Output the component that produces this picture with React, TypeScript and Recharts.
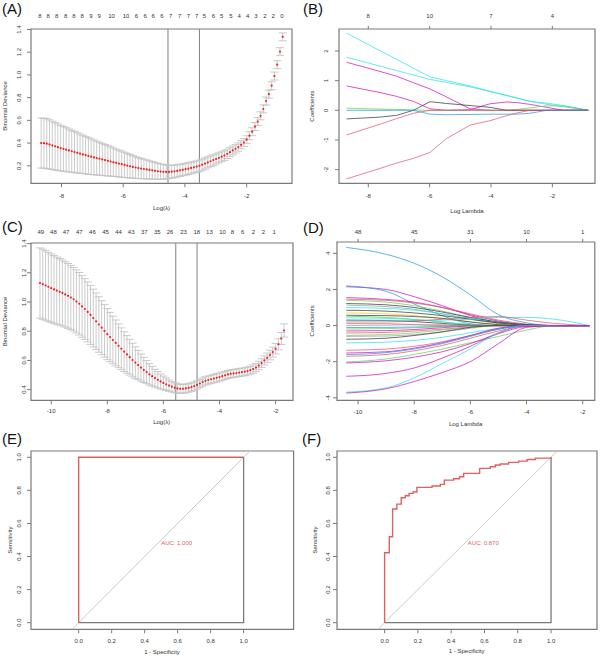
import React from "react";
import {
  ComposedChart,
  Scatter,
  Line,
  XAxis,
  YAxis,
  ErrorBar,
  ReferenceLine,
  ReferenceArea,
  ReferenceDot,
} from "recharts";

const FONT = '"Liberation Sans", Arial, Helvetica, sans-serif';
const TXT = "#333333";
const BOX = "#7a7a7a";
const DOT = "#f02424";
const BAR = "#c4c4c4";
const ROC = "#e0605f";
const DIAG = "#cccccc";
const VLINE = "#8c8c8c";

// R default palette
const K = "#333333", R = "#DF536B", G = "#61D04F", B = "#2297E6", C = "#28E2E5", M = "#CD0BBC", Y = "#F5C710", GR = "#9E9E9E";

// ---- (A) cross-validation curve, first model
const aLogLambda = [
  -8.66, -8.57, -8.48, -8.39, -8.3, -8.21, -8.12, -8.03, -7.94, -7.85,
  -7.76, -7.67, -7.58, -7.49, -7.4, -7.31, -7.22, -7.13, -7.04, -6.95,
  -6.86, -6.77, -6.68, -6.59, -6.5, -6.41, -6.32, -6.23, -6.14, -6.05,
  -5.96, -5.87, -5.78, -5.69, -5.6, -5.51, -5.42, -5.33, -5.24, -5.15,
  -5.06, -4.97, -4.88, -4.79, -4.7, -4.61, -4.52, -4.43, -4.34, -4.25,
  -4.16, -4.07, -3.98, -3.89, -3.8, -3.71, -3.62, -3.53, -3.44, -3.35,
  -3.26, -3.17, -3.08, -2.99, -2.9, -2.81, -2.72, -2.63, -2.54, -2.45,
  -2.36, -2.27, -2.18, -2.09, -2.0, -1.91, -1.82, -1.73, -1.64, -1.55,
  -1.46, -1.37, -1.28, -1.19, -1.1, -1.01, -0.92, -0.83,
];
const aDeviance = [
  0.4, 0.399, 0.395, 0.388, 0.38, 0.372, 0.364, 0.356, 0.349, 0.342,
  0.335, 0.328, 0.321, 0.314, 0.307, 0.3, 0.294, 0.287, 0.28, 0.274,
  0.268, 0.262, 0.256, 0.25, 0.244, 0.238, 0.232, 0.226, 0.22, 0.214,
  0.208, 0.202, 0.196, 0.19, 0.185, 0.18, 0.176, 0.172, 0.168, 0.164,
  0.16, 0.156, 0.152, 0.149, 0.147, 0.146, 0.146, 0.148, 0.151, 0.155,
  0.16, 0.165, 0.17, 0.175, 0.181, 0.187, 0.193, 0.2, 0.21, 0.22,
  0.23, 0.24, 0.25, 0.26, 0.27, 0.28, 0.29, 0.305, 0.32, 0.335,
  0.35, 0.365, 0.385, 0.405, 0.43, 0.465, 0.5, 0.545, 0.59, 0.64,
  0.7, 0.77, 0.83, 0.905, 0.99, 1.09, 1.205, 1.335,
];
const aSd = [
  0.22, 0.22, 0.22, 0.217, 0.213, 0.209, 0.205, 0.201, 0.197, 0.193,
  0.189, 0.185, 0.181, 0.177, 0.173, 0.169, 0.165, 0.161, 0.157, 0.153,
  0.149, 0.145, 0.141, 0.137, 0.133, 0.129, 0.125, 0.121, 0.118, 0.115,
  0.111, 0.107, 0.103, 0.099, 0.095, 0.092, 0.089, 0.086, 0.083, 0.08,
  0.077, 0.074, 0.071, 0.068, 0.065, 0.062, 0.058, 0.056, 0.055, 0.054,
  0.053, 0.052, 0.052, 0.051, 0.051, 0.05, 0.05, 0.05, 0.049, 0.049,
  0.048, 0.047, 0.046, 0.045, 0.044, 0.043, 0.042, 0.041, 0.04, 0.039,
  0.038, 0.037, 0.036, 0.035, 0.035, 0.035, 0.035, 0.035, 0.035, 0.035,
  0.035, 0.035, 0.035, 0.035, 0.035, 0.035, 0.035, 0.035,
];
const aLambdaLines = [-4.55, -3.53];
const aTopAt = [
  -8.7, -8.43, -8.16, -7.87, -7.6, -7.33, -7.05, -6.78, -6.38, -5.91, -5.57, -5.29, -5.03, -4.75,
  -4.46, -4.17, -3.89, -3.62, -3.37, -3.08, -2.81, -2.51, -2.24, -1.97, -1.7, -1.41, -1.14, -0.86,
];
const aTopNz = [
  "8", "8", "8", "8", "8", "8", "9", "9", "10", "10", "6", "6", "6", "6",
  "7", "7", "7", "7", "5", "6", "5", "5", "4", "4", "3", "2", "2", "0",
];

// ---- (C) cross-validation curve, second model
const cLogLambda = [
  -10.4, -10.3, -10.2, -10.1, -10.0, -9.9, -9.8, -9.7, -9.6, -9.5,
  -9.4, -9.3, -9.2, -9.1, -9.0, -8.9, -8.8, -8.7, -8.6, -8.5,
  -8.4, -8.3, -8.2, -8.1, -8.0, -7.9, -7.8, -7.7, -7.6, -7.5,
  -7.4, -7.3, -7.2, -7.1, -7.0, -6.9, -6.8, -6.7, -6.6, -6.5,
  -6.4, -6.3, -6.2, -6.1, -6.0, -5.9, -5.8, -5.7, -5.6, -5.5,
  -5.4, -5.3, -5.2, -5.1, -5.0, -4.9, -4.8, -4.7, -4.6, -4.5,
  -4.4, -4.3, -4.2, -4.1, -4.0, -3.9, -3.8, -3.7, -3.6, -3.5,
  -3.4, -3.3, -3.2, -3.1, -3.0, -2.9, -2.8, -2.7, -2.6, -2.5,
  -2.4, -2.3, -2.2, -2.1, -2.0, -1.9, -1.8, -1.7,
];
const cDeviance = [
  1.13, 1.122, 1.113, 1.104, 1.095, 1.086, 1.078, 1.07, 1.062, 1.052,
  1.042, 1.031, 1.019, 1.004, 0.988, 0.97, 0.952, 0.932, 0.912, 0.89,
  0.868, 0.846, 0.824, 0.802, 0.78, 0.76, 0.74, 0.72, 0.7, 0.68,
  0.66, 0.641, 0.622, 0.603, 0.585, 0.568, 0.551, 0.535, 0.52, 0.505,
  0.492, 0.479, 0.467, 0.456, 0.446, 0.437, 0.428, 0.42, 0.413, 0.408,
  0.406, 0.406, 0.408, 0.412, 0.417, 0.424, 0.432, 0.442, 0.452, 0.46,
  0.466, 0.471, 0.476, 0.481, 0.486, 0.492, 0.498, 0.504, 0.508, 0.511,
  0.514, 0.517, 0.52, 0.523, 0.527, 0.533, 0.541, 0.551, 0.565, 0.582,
  0.6, 0.618, 0.637, 0.657, 0.68, 0.71, 0.75, 0.805,
];
const cSd = [
  0.24, 0.24, 0.238, 0.236, 0.234, 0.232, 0.23, 0.228, 0.226, 0.224,
  0.222, 0.22, 0.218, 0.216, 0.214, 0.211, 0.208, 0.205, 0.202, 0.198,
  0.194, 0.19, 0.185, 0.18, 0.175, 0.169, 0.163, 0.157, 0.15, 0.143,
  0.136, 0.129, 0.122, 0.115, 0.108, 0.1, 0.093, 0.086, 0.079, 0.073,
  0.067, 0.061, 0.056, 0.051, 0.047, 0.043, 0.039, 0.036, 0.034, 0.032,
  0.031, 0.03, 0.03, 0.029, 0.029, 0.029, 0.028, 0.028, 0.028, 0.028,
  0.028, 0.028, 0.028, 0.028, 0.028, 0.028, 0.027, 0.027, 0.027, 0.027,
  0.027, 0.027, 0.027, 0.027, 0.027, 0.027, 0.028, 0.028, 0.029, 0.03,
  0.031, 0.032, 0.033, 0.034, 0.036, 0.038, 0.041, 0.045,
];
const cLambdaLines = [-5.56, -4.8];
const cTopAt = [
  -10.37, -9.92, -9.47, -9.0, -8.53, -8.06, -7.6, -7.15, -6.68, -6.22,
  -5.76, -5.28, -4.81, -4.36, -3.89, -3.54, -3.17, -2.79, -2.43, -2.05,
];
const cTopNz = ["49", "48", "47", "47", "46", "45", "44", "43", "37", "35", "26", "23", "18", "13", "10", "8", "6", "2", "2", "1"];

// ---- (B) coefficient paths, first model
const bLogLambda = [-8.71, -7.62, -7.08, -6.53, -5.99, -5.45, -4.68, -4.03, -3.49, -3.16, -2.73, -2.18, -1.64, -0.83];
const bCoefs = [
  [2.6, 2.01, 1.72, 1.42, 1.13, 1.0, 0.82, 0.64, 0.5, 0.41, 0.3, 0.24, 0.16, 0],
  [1.79, 1.49, 1.34, 1.19, 1.04, 0.94, 0.79, 0.63, 0.5, 0.42, 0.3, 0.2, 0.12, 0],
  [1.62, 1.31, 1.15, 0.93, 0.72, 0.45, 0.05, 0, 0, 0, 0, 0, 0, 0],
  [0.82, 0.6, 0.47, 0.3, 0.05, 0, 0.02, 0.22, 0.28, 0.26, 0.2, 0.1, 0, 0],
  [0.07, 0.04, 0.03, 0.01, 0, 0, 0, 0, 0, 0.03, 0.08, 0.15, 0.15, 0],
  [-0.29, -0.23, -0.17, 0, 0.29, 0.23, 0.16, 0.1, 0, 0, 0, 0, 0, 0],
  [-0.83, -0.47, -0.28, -0.1, 0, 0, 0, 0, 0, 0, 0, 0, 0, 0],
  [-2.31, -1.96, -1.78, -1.62, -1.42, -0.95, -0.5, -0.35, -0.18, -0.09, 0, 0, 0, 0],
  [0, 0, 0, 0, -0.13, -0.15, -0.14, -0.13, -0.13, -0.13, -0.1, 0, 0, 0],
];
const bColors = [C, C, M, M, G, K, R, R, B];
const bTopAt = [-8, -6, -4, -2];
const bTopNz = ["8", "10", "7", "4"];

// ---- (D) coefficient paths, second model
const dLogLambda = [-10.42, -9, -8, -7, -6, -5, -4, -3, -1.76];
const dCoefs = [
  [4.33, 3.95, 3.45, 2.7, 1.7, 0.6, 0.15, 0, 0],
  [2.15, 2.0, 1.6, 1.1, 0.55, 0.15, 0, 0, 0],
  [2.2, 1.9, 1.2, 0.55, 0.1, 0, 0, 0, 0],
  [1.55, 1.45, 1.3, 1.0, 0.6, 0.25, 0.05, 0, 0],
  [1.46, 1.4, 1.25, 1.0, 0.65, 0.3, 0.08, 0, 0],
  [1.4, 1.3, 1.1, 0.8, 0.45, 0.15, 0, 0, 0],
  [1.22, 1.15, 1.0, 0.75, 0.45, 0.2, 0.05, 0, 0],
  [1.13, 1.05, 0.9, 0.65, 0.35, 0.1, 0, 0, 0],
  [1.0, 0.95, 0.85, 0.65, 0.4, 0.15, 0, 0, 0],
  [0.85, 0.8, 0.7, 0.55, 0.35, 0.15, 0.02, 0, 0],
  [0.7, 0.65, 0.55, 0.4, 0.2, 0.05, 0, 0, 0],
  [0.57, 0.55, 0.5, 0.4, 0.2, 0.05, 0, 0, 0],
  [0.52, 0.45, 0.35, 0.2, 0.05, 0, 0, 0, 0],
  [0.43, 0.4, 0.33, 0.2, 0.05, 0, 0, 0, 0],
  [0.3, 0.28, 0.22, 0.12, 0.02, 0, 0, 0, 0],
  [0.3, 0.3, 0.28, 0.3, 0.35, 0.45, 0.45, 0.35, 0],
  [0.2, 0.2, 0.25, 0.35, 0.45, 0.5, 0.3, 0.12, 0],
  [0.11, 0.1, 0.05, 0, 0, 0, 0, 0, 0],
  [0, 0.02, 0.05, 0.05, 0, 0, 0, 0, 0],
  [-0.11, -0.1, -0.08, -0.05, 0, 0, 0, 0, 0],
  [-0.19, -0.17, -0.12, -0.06, 0, 0, 0, 0, 0],
  [-0.3, -0.28, -0.22, -0.12, -0.02, 0, 0, 0, 0],
  [-0.41, -0.38, -0.3, -0.2, -0.08, 0, 0, 0, 0],
  [-0.54, -0.5, -0.4, -0.25, -0.08, 0, 0, 0, 0],
  [-0.6, -0.58, -0.5, -0.35, -0.15, 0, 0, 0, 0],
  [-0.76, -0.7, -0.55, -0.35, -0.1, 0, 0, 0, 0],
  [-0.96, -0.92, -0.82, -0.65, -0.4, -0.15, 0, 0, 0],
  [-1.37, -1.3, -1.15, -0.9, -0.55, -0.2, 0, 0, 0],
  [-1.52, -1.45, -1.25, -0.95, -0.55, -0.15, 0, 0, 0],
  [-1.61, -1.5, -1.3, -1.0, -0.6, -0.2, 0, 0, 0],
  [-1.7, -1.6, -1.4, -1.1, -0.7, -0.3, -0.02, 0, 0],
  [-2.02, -1.85, -1.6, -1.3, -0.95, -0.6, -0.25, 0, 0],
  [-2.07, -1.95, -1.75, -1.45, -1.0, -0.45, -0.05, 0, 0],
  [-2.81, -2.65, -2.35, -1.8, -1.15, -0.4, 0, 0, 0],
  [-3.69, -3.45, -2.9, -2.1, -1.3, -0.4, 0, 0, 0],
  [-3.74, -3.5, -3.1, -2.6, -2.0, -1.0, -0.1, 0, 0],
];
const dColors = [B, M, B, M, R, G, K, GR, C, K, Y, K, G, C, K, C, R, R, GR, B, G, M, R, G, GR, K, C, R, M, B, R, G, M, M, C, M];
const dTopAt = [-10, -8, -6, -4, -2];
const dTopNz = ["48", "45", "31", "10", "1"];

// ---- (E), (F) ROC curves
const eFpr = [0, 0, 1];
const eTpr = [0, 1, 1];
const fFpr = [0, 0, 0.028, 0.048, 0.074, 0.1, 0.124, 0.147, 0.171, 0.194, 0.285, 0.335, 0.359, 0.415, 0.45, 0.475, 0.571, 0.635, 0.665, 0.695, 0.745, 0.805, 0.856, 0.906, 1.0];
const fTpr = [0, 0.423, 0.52, 0.687, 0.717, 0.755, 0.767, 0.782, 0.79, 0.818, 0.826, 0.836, 0.862, 0.87, 0.882, 0.903, 0.933, 0.943, 0.953, 0.959, 0.969, 0.977, 0.987, 0.995, 1.0];
const cornerFpr = [0, 1, 1];
const cornerTpr = [0, 0, 1];
const eAuc = "AUC: 1.000";
const fAuc = "AUC: 0.870";

const toXY = (xs: number[], ys: number[]) => xs.map((x, i) => ({ x, y: ys[i] }));

type Box = { x0: number; y0: number; x1: number; y1: number };
const ML = 30, MR = 3, MB = 32, MT = 30;

const tickStyle = { fontSize: 6, fill: TXT, fontFamily: FONT };

function yTick(off: number, digits: number) {
  return (p: any) => {
    const x = p.x - off;
    return (
      <text x={x} y={p.y} dy="0.35em" textAnchor="middle" transform={`rotate(-90 ${x} ${p.y})`} fontSize={6} fill={TXT} fontFamily={FONT}>
        {Number(p.payload.value).toFixed(digits)}
      </text>
    );
  };
}

const redDot = (p: any) => <circle cx={p.cx} cy={p.cy} r={1.1} fill={DOT} />;

function CvPanel(p: {
  box: Box; xDom: [number, number]; yDom: [number, number]; xTicks: number[]; yTicks: number[];
  topAt: number[]; topNz: string[]; lines: number[]; points: any[]; yOff: number; xGap: number; topGap: number;
}) {
  const W = p.box.x1 - p.box.x0 + ML + MR;
  const H = p.box.y1 - p.box.y0 + MT + MB;
  return (
    <div style={{ position: "absolute", left: p.box.x0 - ML, top: p.box.y0 - MT }}>
      <ComposedChart width={W} height={H} margin={{ top: 0, right: MR, bottom: 0, left: 0 }} style={{ fontFamily: FONT }}>
        <XAxis type="number" dataKey="x" domain={p.xDom} allowDataOverflow ticks={p.xTicks} interval={0} height={MB}
          tickSize={4} tickMargin={p.xGap} axisLine={false} tickLine={{ stroke: BOX }} tick={tickStyle} />
        <XAxis xAxisId="top" orientation="top" type="number" dataKey="x" domain={p.xDom} allowDataOverflow ticks={p.topAt}
          interval={0} height={MT} tickSize={0} tickMargin={p.topGap} axisLine={false} tickLine={false} tick={tickStyle}
          tickFormatter={(v: number) => p.topNz[p.topAt.indexOf(v)] ?? ""} />
        <YAxis type="number" domain={p.yDom} allowDataOverflow ticks={p.yTicks} interval={0} width={ML}
          tickSize={4} tickMargin={0} axisLine={false} tickLine={{ stroke: BOX }} tick={yTick(p.yOff, 1)} />
        {p.lines.map((v) => (
          <ReferenceLine key={v} x={v} stroke={VLINE} strokeWidth={1.1} />
        ))}
        <Scatter data={p.points} dataKey="y" shape={redDot} isAnimationActive={false}>
          <ErrorBar dataKey="sd" direction="y" width={4} stroke={BAR} strokeWidth={0.9} />
        </Scatter>
        <ReferenceArea x1={p.xDom[0]} x2={p.xDom[1]} y1={p.yDom[0]} y2={p.yDom[1]} fill="none" stroke={BOX} strokeWidth={1.2} ifOverflow="visible" />
      </ComposedChart>
    </div>
  );
}

function PathPanel(p: {
  box: Box; xDom: [number, number]; yDom: [number, number]; xTicks: number[]; yTicks: number[];
  topAt: number[]; topNz: string[]; lambda: number[]; coefs: number[][]; colors: string[];
  curve: "linear" | "monotone"; yOff: number; xGap: number; topGap: number;
}) {
  const W = p.box.x1 - p.box.x0 + ML + MR;
  const H = p.box.y1 - p.box.y0 + MT + MB;
  return (
    <div style={{ position: "absolute", left: p.box.x0 - ML, top: p.box.y0 - MT }}>
      <ComposedChart width={W} height={H} margin={{ top: 0, right: MR, bottom: 0, left: 0 }} style={{ fontFamily: FONT }}>
        <XAxis type="number" dataKey="x" domain={p.xDom} allowDataOverflow ticks={p.xTicks} interval={0} height={MB}
          tickSize={4} tickMargin={p.xGap} axisLine={false} tickLine={{ stroke: BOX }} tick={tickStyle} />
        <XAxis xAxisId="top" orientation="top" type="number" dataKey="x" domain={p.xDom} allowDataOverflow ticks={p.topAt}
          interval={0} height={MT} tickSize={3} tickMargin={p.topGap} axisLine={false} tickLine={{ stroke: BOX }} tick={tickStyle}
          tickFormatter={(v: number) => p.topNz[p.topAt.indexOf(v)] ?? ""} />
        <YAxis type="number" domain={p.yDom} allowDataOverflow ticks={p.yTicks} interval={0} width={ML}
          tickSize={4} tickMargin={0} axisLine={false} tickLine={{ stroke: BOX }} tick={yTick(p.yOff, 0)} />
        {p.coefs.map((vals, k) => (
          <Line key={k} data={toXY(p.lambda, vals)} dataKey="y" type={p.curve} stroke={p.colors[k]} strokeWidth={1}
            strokeOpacity={0.72} dot={false} activeDot={false} isAnimationActive={false} />
        ))}
        <ReferenceArea x1={p.xDom[0]} x2={p.xDom[1]} y1={p.yDom[0]} y2={p.yDom[1]} fill="none" stroke={BOX} strokeWidth={1.2} ifOverflow="visible" />
      </ComposedChart>
    </div>
  );
}

function RocPanel(p: { box: Box; xDom: [number, number]; yDom: [number, number]; fpr: number[]; tpr: number[]; auc: string; curve: "linear" | "stepAfter"; yOff: number }) {
  const top = 6;
  const W = p.box.x1 - p.box.x0 + ML + MR;
  const H = p.box.y1 - p.box.y0 + top + MB;
  const ticks = [0, 0.2, 0.4, 0.6, 0.8, 1.0];
  return (
    <div style={{ position: "absolute", left: p.box.x0 - ML, top: p.box.y0 - top }}>
      <ComposedChart width={W} height={H} margin={{ top, right: MR, bottom: 0, left: 0 }} style={{ fontFamily: FONT }}>
        <XAxis type="number" dataKey="x" domain={p.xDom} allowDataOverflow ticks={ticks} interval={0} height={MB}
          tickSize={4} tickMargin={5.25} axisLine={false} tickLine={{ stroke: BOX }} tick={tickStyle}
          tickFormatter={(v: number) => v.toFixed(1)} />
        <YAxis type="number" domain={p.yDom} allowDataOverflow ticks={ticks} interval={0} width={ML}
          tickSize={4} tickMargin={0} axisLine={false} tickLine={{ stroke: BOX }} tick={yTick(p.yOff, 1)} />
        <ReferenceLine segment={[{ x: -0.2, y: -0.2 }, { x: 1.2, y: 1.2 }]} stroke={DIAG} strokeWidth={1} ifOverflow="hidden" />
        <Line data={toXY(cornerFpr, cornerTpr)} dataKey="y" type="linear" stroke={BOX} strokeWidth={1.3} dot={false} activeDot={false} isAnimationActive={false} />
        <Line data={toXY(p.fpr, p.tpr)} dataKey="y" type={p.curve} stroke={ROC} strokeWidth={1.4} dot={false} activeDot={false} isAnimationActive={false} />
        <ReferenceDot x={0.5} y={0.48} r={0} ifOverflow="visible"
          label={{ value: p.auc, position: "right", offset: 0, fill: ROC, fontSize: 6, fontFamily: FONT }} />
        <ReferenceArea x1={p.xDom[0]} x2={p.xDom[1]} y1={p.yDom[0]} y2={p.yDom[1]} fill="none" stroke={BOX} strokeWidth={1.2} ifOverflow="visible" />
      </ComposedChart>
    </div>
  );
}

function Titles() {
  const small = { fontSize: 6, fill: TXT, fontFamily: FONT, textAnchor: "middle" as const, dominantBaseline: "central" as const };
  const big = { fontSize: 15, fill: "#111", fontFamily: FONT };
  const v = (x: number, y: number, t: string) => (
    <text key={t + x + y} x={x} y={y} transform={`rotate(-90 ${x} ${y})`} {...small}>{t}</text>
  );
  const h = (x: number, y: number, t: string) => (
    <text key={t + x + y} x={x} y={y} {...small}>{t}</text>
  );
  return (
    <svg width={600} height={657} style={{ position: "absolute", left: 0, top: 0, pointerEvents: "none" }}>
      <text x={2} y={14.3} {...big}>(A)</text>
      <text x={303} y={14.3} {...big}>(B)</text>
      <text x={2} y={232} {...big}>(C)</text>
      <text x={303} y={233} {...big}>(D)</text>
      <text x={2} y={444} {...big}>(E)</text>
      <text x={302} y={444} {...big}>(F)</text>
      {v(5, 106, "Binomial Deviance")}
      {h(161.5, 208, "Log(λ)")}
      {v(311.7, 106, "Coefficients")}
      {h(467, 210.5, "Log Lambda")}
      {v(5, 321.4, "Binomial Deviance")}
      {h(161.7, 422.3, "Log(λ)")}
      {v(311.7, 320.9, "Coefficients")}
      {h(465.6, 424, "Log Lambda")}
      {v(10, 540, "Sensitivity")}
      {h(162, 651.7, "1 - Specificity")}
      {v(315, 540, "Sensitivity")}
      {h(466.7, 651.3, "1 - Specificity")}
    </svg>
  );
}

const aPoints = aLogLambda.map((x, i) => ({ x, y: aDeviance[i], sd: aSd[i] }));
const cPoints = cLogLambda.map((x, i) => ({ x, y: cDeviance[i], sd: cSd[i] }));

export default function App() {
  return (
    <div style={{ position: "absolute", left: 0, top: 0, width: 600, height: 657, overflow: "hidden", background: "#fff", fontFamily: FONT }}>
      <CvPanel box={{ x0: 31, y0: 29, x1: 292, y1: 183.3 }} xDom={[-8.99, -0.53]} yDom={[0.046, 1.404]}
        xTicks={[-8, -6, -4, -2]} yTicks={[0.2, 0.4, 0.6, 0.8, 1.0, 1.2, 1.4]} topAt={aTopAt} topNz={aTopNz}
        lines={aLambdaLines} points={aPoints} yOff={8} xGap={6} topGap={11.15} />
      <PathPanel box={{ x0: 339, y0: 29, x1: 595, y1: 183.3 }} xDom={[-8.955, -0.61]} yDom={[-2.46, 2.74]}
        xTicks={[-8, -6, -4, -2]} yTicks={[-2, -1, 0, 1, 2]} topAt={bTopAt} topNz={bTopNz}
        lambda={bLogLambda} coefs={bCoefs} colors={bColors} curve="linear" yOff={9} xGap={6.5} topGap={8.15} />
      <CvPanel box={{ x0: 30.7, y0: 242.7, x1: 292.7, y1: 400 }} xDom={[-10.72, -1.38]} yDom={[0.327, 1.404]}
        xTicks={[-10, -8, -6, -4, -2]} yTicks={[0.4, 0.6, 0.8, 1.0, 1.2, 1.4]} topAt={cTopAt} topNz={cTopNz}
        lines={cLambdaLines} points={cPoints} yOff={3.4} xGap={4.6} topGap={8.85} />
      <PathPanel box={{ x0: 336.7, y0: 241.7, x1: 594.5, y1: 400 }} xDom={[-10.75, -1.57]} yDom={[-4.14, 4.63]}
        xTicks={[-10, -8, -6, -4, -2]} yTicks={[-4, -2, 0, 2, 4]} topAt={dTopAt} topNz={dTopNz}
        lambda={dLogLambda} coefs={dCoefs} colors={dColors} curve="monotone" yOff={5} xGap={5.5} topGap={4.85} />
      <RocPanel box={{ x0: 30.7, y0: 451, x1: 293.3, y1: 629.3 }} xDom={[-0.289, 1.303]} yDom={[-0.04, 1.038]}
        fpr={eFpr} tpr={eTpr} auc={eAuc} curve="linear" yOff={7.7} />
      <RocPanel box={{ x0: 336.7, y0: 451, x1: 596.7, y1: 629.3 }} xDom={[-0.286, 1.276]} yDom={[-0.04, 1.038]}
        fpr={fFpr} tpr={fTpr} auc={fAuc} curve="stepAfter" yOff={5.4} />
      <Titles />
    </div>
  );
}
